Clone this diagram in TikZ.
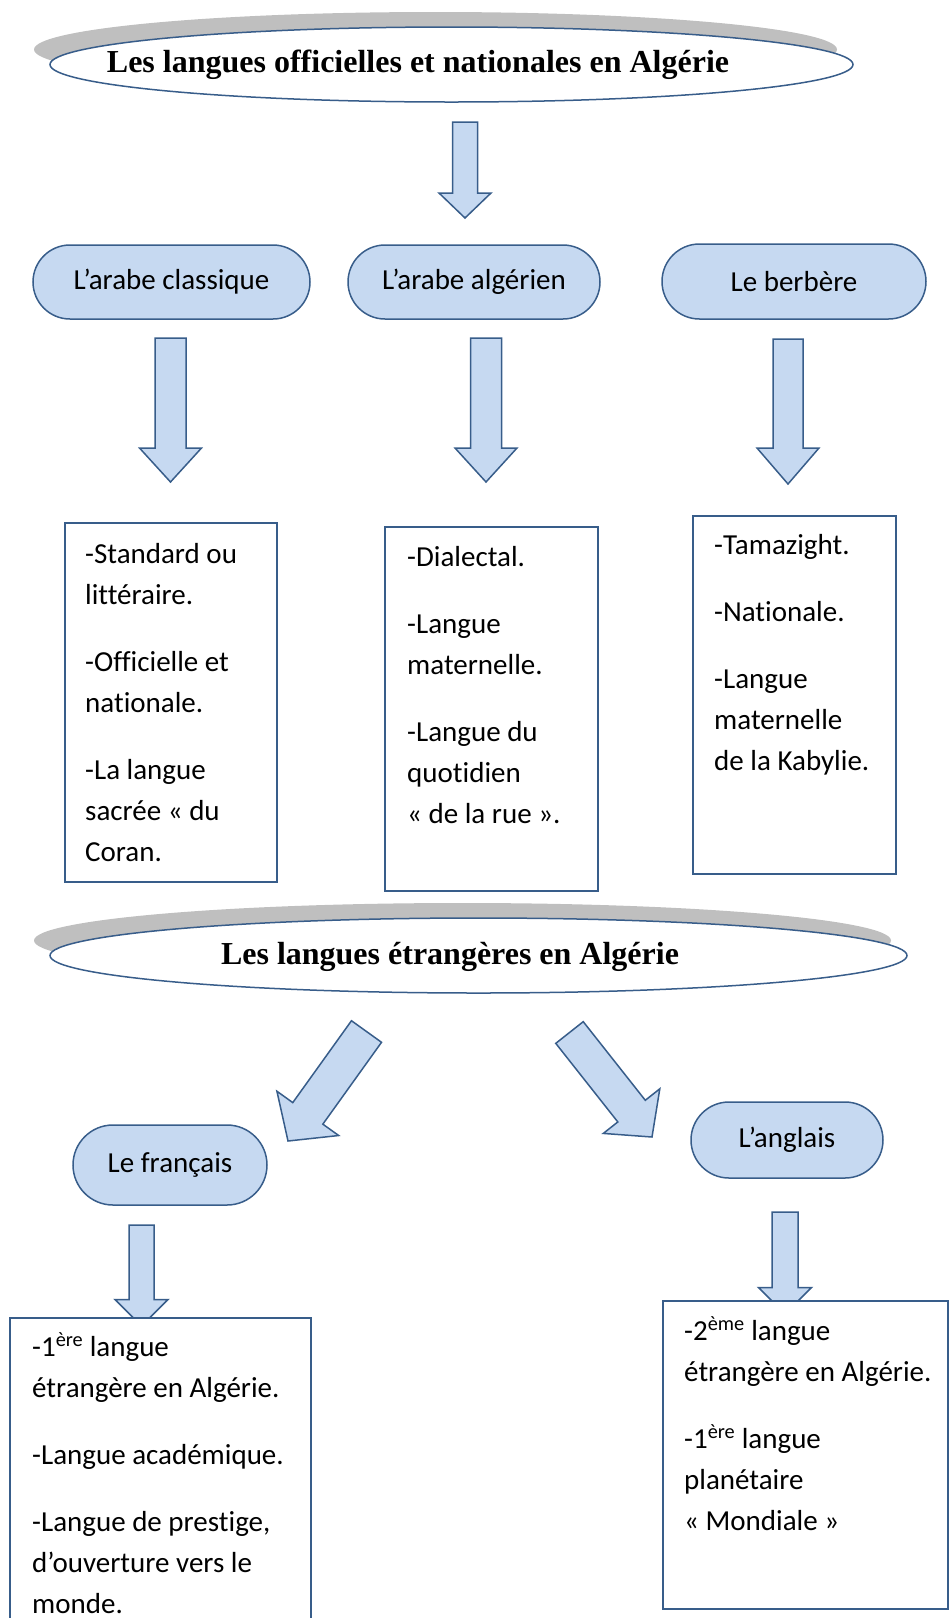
\documentclass[tikz,border=0pt]{standalone}
\usepackage{fontspec}
\setmainfont{Carlito}[Ligatures=CommonOff]
\newfontfamily\titlefont{Liberation Serif}[Ligatures=CommonOff]
\usetikzlibrary{shapes.geometric,shapes.misc,shadows,calc}

\definecolor{shapeblue}{HTML}{C6D9F1}
\definecolor{lineblue}{HTML}{385D8A}
\definecolor{shadowgray}{HTML}{BFBFBF}

\tikzset{
  banner/.style={ellipse, draw=lineblue, line width=1.5pt, fill=white, inner sep=0pt,
    drop shadow={shadow xshift=-16pt, shadow yshift=15pt, fill=shadowgray, opacity=1}},
  bannertext/.style={inner sep=0pt, font=\titlefont\bfseries\fontsize{32}{38}\selectfont},
  langnode/.style={rounded rectangle, draw=lineblue, fill=shapeblue, line width=1.5pt,
    inner sep=0pt, font=\fontsize{29}{41}\selectfont},
  infobox/.style={rectangle, draw=lineblue, fill=white, line width=1.5pt, inner sep=0pt},
  infotext/.style={anchor=base west, inner sep=0pt, align=left, font=\fontsize{29}{41}\selectfont},
  arrowshape/.style={draw=lineblue, fill=shapeblue, line width=1.5pt, line join=miter}
}

\begin{document}
\begin{tikzpicture}[x=1pt, y=-1pt]
    \useasboundingbox (0,0) rectangle (951,1618);
    \clip (0,0) rectangle (951,1618);

    % Define the block arrow: tail, tip, shaft half width, head half width, head length
    \def\blockarrow#1#2#3#4#5{%
      \coordinate (hb) at ($(#2)!#5!(#1)$);
      \draw[arrowshape] ($(#1)!#3!90:(#2)$) -- ($(hb)!#3!90:(#2)$) -- ($(hb)!#4!90:(#2)$) -- (#2)
        -- ($(hb)!#4!-90:(#2)$) -- ($(hb)!#3!-90:(#2)$) -- ($(#1)!#3!-90:(#2)$) -- cycle;}

    % Draw the first title
    \node[banner, minimum width=803pt, minimum height=75pt] (official) at (451.5,64.5) {};
    \node[bannertext] (officialtext) at (418,65) {Les langues officielles et nationales en Algérie};

    \coordinate (officialtail) at (465,122);
    \coordinate (officialtip) at (465,218);
    \blockarrow{officialtail}{officialtip}{12.5pt}{26pt}{25pt}

    % Draw the three languages
    \node[langnode, minimum width=277pt, minimum height=74pt] (classique) at (171.5,282) {L’arabe classique};
    \node[langnode, minimum width=252pt, minimum height=74pt] (algerien) at (474,282) {L’arabe algérien};
    \node[langnode, minimum width=264pt, minimum height=75pt] (berbere) at (794,281.5) {Le berbère};

    \coordinate (classiquetail) at (170.5,338);
    \coordinate (classiquetip) at (170.5,482);
    \coordinate (algerientail) at (486,338);
    \coordinate (algerientip) at (486,482);
    \coordinate (berberetail) at (788,339);
    \coordinate (berberetip) at (788,484);
    \blockarrow{classiquetail}{classiquetip}{15.5pt}{31pt}{34pt}
    \blockarrow{algerientail}{algerientip}{15.5pt}{31pt}{34pt}
    \blockarrow{berberetail}{berberetip}{15pt}{31pt}{36pt}

    % Add the boxes and their texts (placed by the last baseline)
    \node[infobox, minimum width=212pt, minimum height=359pt] (classiquebox) at (171,702.5) {};
    \node[infotext] (classiquetext) at (85,861)
      {-Standard ou\\littéraire.\\[26pt]-Officielle et\\nationale.\\[26pt]-La langue\\sacrée «~du\\Coran.};
    \node[infobox, minimum width=213pt, minimum height=364pt] (algerienbox) at (491.5,709) {};
    \node[infotext] (algerientext) at (407,823)
      {-Dialectal.\\[26pt]-Langue\\maternelle.\\[26pt]-Langue du\\quotidien\\«~de la rue~».};
    \node[infobox, minimum width=203pt, minimum height=358pt] (berberebox) at (794.5,695) {};
    \node[infotext] (berberetext) at (714,770)
      {-Tamazight.\\[26pt]-Nationale.\\[26pt]-Langue\\maternelle\\de la Kabylie.};

    % Draw the second title
    \node[banner, minimum width=857pt, minimum height=75pt] (foreign) at (478.5,955.5) {};
    \node[bannertext] (foreigntext) at (450,957) {Les langues étrangères en Algérie};

    \coordinate (frenchtail) at (366.5,1031.5);
    \coordinate (frenchtip) at (288,1141);
    \coordinate (englishtail) at (569.5,1032.5);
    \coordinate (englishtip) at (652,1137);
    \blockarrow{frenchtail}{frenchtip}{18.5pt}{38pt}{34pt}
    \blockarrow{englishtail}{englishtip}{17.5pt}{36pt}{33pt}

    \node[langnode, minimum width=194pt, minimum height=80pt] (french) at (170,1165) {Le français};
    \node[langnode, minimum width=192pt, minimum height=76pt] (english) at (787,1140) {L’anglais};

    \coordinate (frenchdown) at (141.5,1225);
    \coordinate (frenchend) at (141.5,1326);
    \coordinate (englishdown) at (785,1212);
    \coordinate (englishend) at (785,1314);
    \blockarrow{frenchdown}{frenchend}{12.5pt}{26.5pt}{26.5pt}
    \blockarrow{englishdown}{englishend}{13pt}{26.5pt}{26.5pt}

    \node[infobox, minimum width=301pt, minimum height=332pt] (frenchbox) at (160.5,1484) {};
    \node[infotext] (frenchtext) at (32,1613)
      {-1\textsuperscript{ère} langue\\étrangère en Algérie.\\[26pt]-Langue académique.\\[26pt]-Langue de prestige,\\d’ouverture vers le\\monde.};
    \node[infobox, minimum width=285pt, minimum height=308pt] (englishbox) at (805.5,1455) {};
    \node[infotext] (englishtext) at (684,1530)
      {-2\textsuperscript{ème} langue\\étrangère en Algérie.\\[26pt]-1\textsuperscript{ère} langue\\planétaire\\«~Mondiale~»};
\end{tikzpicture}
\end{document}
